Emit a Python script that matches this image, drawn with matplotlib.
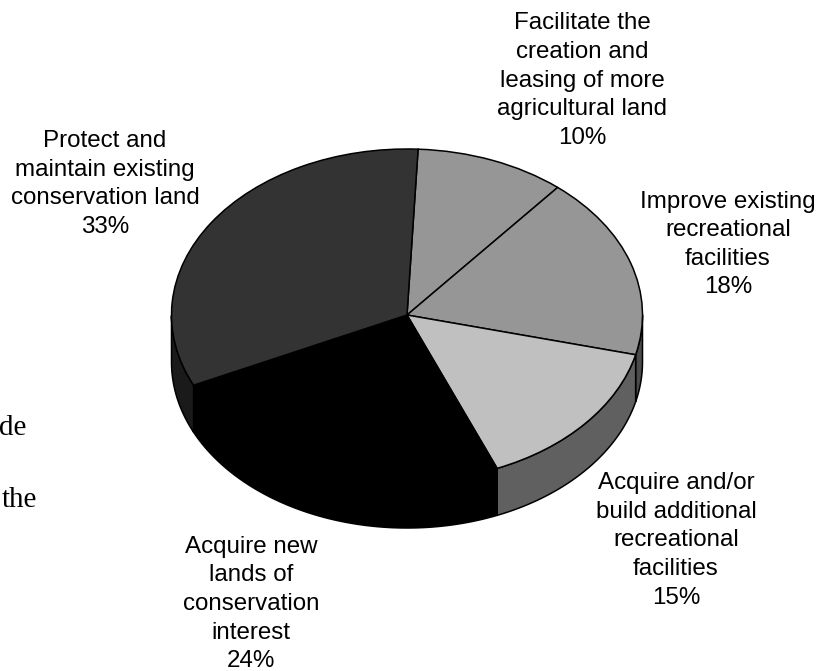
"""Tilted pie chart of land and recreation priorities."""

import numpy as np
import matplotlib
matplotlib.use("Agg")
import matplotlib.pyplot as plt

plt.rcParams["font.family"] = ["Liberation Sans", "DejaVu Sans"]

# shares, clockwise from the top (labels are rounded)
labels = [
    "Facilitate the\ncreation and\nleasing of more\nagricultural land\n10%",
    "Improve existing\nrecreational\nfacilities\n18%",
    "Acquire and/or\nbuild additional\nrecreational\nfacilities\n15%",
    "Acquire new\nlands of\nconservation\ninterest\n24%",
    "Protect and\nmaintain existing\nconservation land\n33%",
]
shares = [10.3, 17.8, 14.9, 24.3, 32.7]
top_colors = ["#969696", "#969696", "#c0c0c0", "#000000", "#333333"]
side_colors = ["#4b4b4b", "#4b4b4b", "#606060", "#000000", "#1a1a1a"]
label_xy = [(582, 80.5), (728, 244.5), (676, 540.5), (251, 604), (105, 184)]

W, H = 829, 671
CX, CY, A, B = 407, 315, 235.5, 166
DEPTH = 47 / B
START = 2.7  # degrees clockwise from the top

fig = plt.figure(figsize=(W / 100, H / 100), dpi=100, facecolor="white")
ax = fig.add_axes([(CX - 2 * A) / W, 1 - (CY + 2 * B) / H, 4 * A / W, 4 * B / H])

# side wall first, only the part facing the viewer
edges = START + np.cumsum([0] + shares) * 3.6
for i in range(len(shares)):
    t = np.radians(np.linspace(edges[i], edges[i + 1], 200))
    x, y = np.sin(t), np.cos(t)
    keep = (t > np.pi / 2) & (t < 3 * np.pi / 2)
    if not keep.any():
        continue
    x, y = x[keep], y[keep]
    ax.fill(
        np.r_[x, x[::-1]], np.r_[y, y[::-1] - DEPTH],
        facecolor=side_colors[i], edgecolor="black", linewidth=1.1,
    )

ax.pie(
    shares,
    colors=top_colors,
    startangle=90 - START,
    counterclock=False,
    radius=1,
    wedgeprops={"edgecolor": "black", "linewidth": 1.1},
)
ax.set_aspect("auto")
ax.set_xlim(-2, 2)
ax.set_ylim(-2, 2)

for text, (px, py) in zip(labels, label_xy):
    fig.text(px / W, 1 - py / H, text, ha="center", va="center", fontsize=17.4,
             linespacing=1.39, color="black")

# clipped body text from the page behind the chart
fig.text(26 / W, 1 - 435 / H, "de", ha="right", va="baseline", fontsize=21,
         family="Liberation Serif")
fig.text(37 / W, 1 - 507 / H, "the", ha="right", va="baseline", fontsize=21,
         family="Liberation Serif")

fig.savefig("out.png", dpi=100)
